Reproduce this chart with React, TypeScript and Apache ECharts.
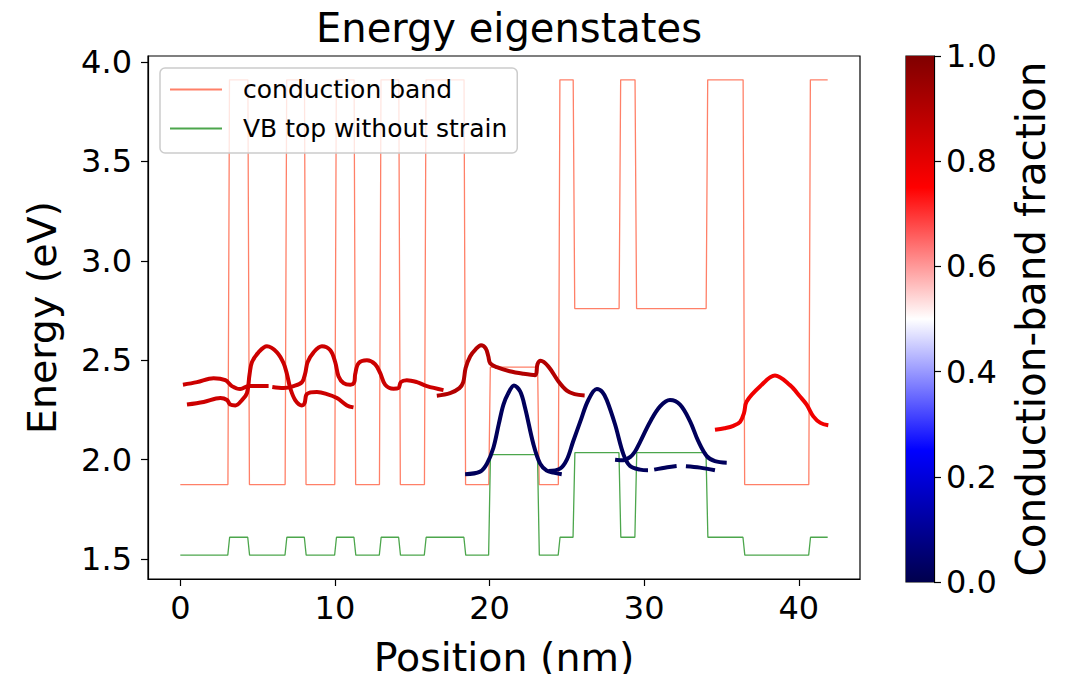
import React, { useEffect, useRef } from "react";
import * as echarts from "echarts";

const FONT = "DejaVu Sans";

// Layer boundaries along the growth direction (nm)
const layerEdges = [0, 3.13, 4.42, 6.83, 8.08, 10.04, 11.29, 12.93, 14.18, 15.84, 18.4, 20.0, 23.16, 24.5, 25.46, 28.43, 29.46, 34.06, 36.45, 40.7, 41.87];
// Conduction band edge per layer (eV)
const cbLevels = [1.875, 3.91, 1.875, 3.91, 1.875, 3.91, 1.875, 3.91, 1.875, 3.91, 1.875, 2.465, 1.875, 3.91, 2.76, 3.91, 2.76, 3.91, 1.875, 3.91];
// Valence band top without strain per layer (eV)
const vbLevels = [1.52, 1.61, 1.52, 1.61, 1.52, 1.61, 1.52, 1.61, 1.52, 1.61, 1.52, 2.025, 1.52, 1.61, 2.035, 1.61, 2.035, 1.61, 1.52, 1.61];

const xTicks = [0, 10, 20, 30, 40];
const yTicks = [1.5, 2.0, 2.5, 3.0, 3.5, 4.0];
const cbarTicks = [0, 0.2, 0.4, 0.6, 0.8, 1.0];

// Eigenstates: [position nm, energy eV]; null marks a break
const stateU: ([number, number] | null)[] = [
  [0.17, 2.377], [1.08, 2.39], [2.15, 2.41], [2.91, 2.4], [3.34, 2.37], [3.88, 2.355], [4.42, 2.37], [4.96, 2.37], [5.71, 2.37], null,
  [5.95, 2.365], [6.68, 2.36], [7.33, 2.37], [7.87, 2.39], [8.08, 2.435], [8.23, 2.49], [8.62, 2.54], [9.16, 2.57], [9.7, 2.55], [10.02, 2.49],
  [10.23, 2.42], [10.56, 2.385], [11.0, 2.377], [11.25, 2.39], [11.31, 2.43], [11.53, 2.485], [12.07, 2.5], [12.6, 2.48], [12.93, 2.435],
  [13.25, 2.377], [13.79, 2.357], [14.11, 2.36], [14.26, 2.39], [14.65, 2.4], [15.3, 2.39], [15.95, 2.37], [17.02, 2.35],
];
const stateL: ([number, number] | null)[] = [
  [0.43, 2.277], [1.51, 2.29], [2.59, 2.31], [3.02, 2.3], [3.23, 2.277], [3.56, 2.273], [3.99, 2.3], [4.31, 2.335], [4.48, 2.43], [4.63, 2.49],
  [5.06, 2.54], [5.6, 2.57], [6.25, 2.54], [6.68, 2.485], [6.9, 2.43], [7.11, 2.36], [7.43, 2.3], [7.87, 2.273], [8.04, 2.285], [8.19, 2.33],
  [8.84, 2.34], [9.48, 2.33], [10.13, 2.31], [10.78, 2.273], [11.2, 2.263],
];
const stateM: ([number, number] | null)[] = [
  [16.59, 2.322], [17.45, 2.335], [18.05, 2.36], [18.3, 2.39], [18.45, 2.46], [18.75, 2.52], [19.1, 2.555], [19.45, 2.575], [19.75, 2.56],
  [19.92, 2.52], [20.04, 2.485], [20.47, 2.465], [21.3, 2.445], [22.2, 2.432], [22.95, 2.425], [23.1, 2.48], [23.3, 2.497], [23.81, 2.468],
  [24.46, 2.393], [25.0, 2.347], [25.5, 2.33], [26.15, 2.323],
];
const stateN1: ([number, number] | null)[] = [
  [18.42, 1.927], [19.39, 1.94], [19.83, 1.98], [20.25, 2.06], [20.6, 2.18], [20.9, 2.277], [21.22, 2.335], [21.58, 2.373], [21.98, 2.343],
  [22.3, 2.26], [22.84, 2.077], [23.27, 1.98], [23.7, 1.945], [24.13, 1.935], [24.67, 1.927],
];
const stateN2: ([number, number] | null)[] = [
  [23.81, 1.943], [24.56, 1.955], [25.0, 2.0], [25.4, 2.09], [25.86, 2.19], [26.39, 2.3], [26.94, 2.355], [27.3, 2.34], [27.58, 2.3],
  [28.12, 2.177], [28.66, 2.027], [29.09, 1.968], [29.74, 1.95], [30.25, 1.947], null,
  [30.65, 1.95], [31.5, 1.962], [32.1, 1.968], null,
  [32.7, 1.967], [33.61, 1.96], [34.58, 1.947],
];
const stateN3: ([number, number] | null)[] = [
  [28.12, 2.0], [28.66, 1.997], [29.09, 2.013], [29.4, 2.04], [29.74, 2.09], [30.38, 2.19], [31.03, 2.268], [31.67, 2.3], [32.32, 2.277],
  [32.97, 2.193], [33.5, 2.093], [34.05, 2.018], [34.58, 1.993], [35.34, 1.985],
];
const stateR: ([number, number] | null)[] = [
  [34.58, 2.15], [35.2, 2.158], [35.77, 2.17], [36.2, 2.19], [36.46, 2.235], [36.63, 2.293], [37.49, 2.368], [38.46, 2.423], [39.43, 2.375],
  [40.08, 2.318], [40.51, 2.277], [40.94, 2.218], [41.4, 2.185], [41.91, 2.173],
];

const states = [stateL, stateU, stateM, stateN1, stateN2, stateN3, stateR];
// Conduction-band fraction of each state
const stateFractions = [0.85, 0.85, 0.9, 0.02, 0.02, 0.02, 0.78];

const seismicStops: [number, number[]][] = [
  [0, [0, 0, 0.3]],
  [0.25, [0, 0, 1]],
  [0.5, [1, 1, 1]],
  [0.75, [1, 0, 0]],
  [1, [0.5, 0, 0]],
];

function seismic(f: number): string {
  for (let i = 1; i < seismicStops.length; i++) {
    const [p0, c0] = seismicStops[i - 1];
    const [p1, c1] = seismicStops[i];
    if (f <= p1) {
      const t = (f - p0) / (p1 - p0);
      const c = c0.map((v, k) => Math.round((v + (c1[k] - v) * t) * 255));
      return `rgb(${c[0]},${c[1]},${c[2]})`;
    }
  }
  return "rgb(128,0,0)";
}

function stepProfile(edges: number[], levels: number[], ramp: number): number[][] {
  const pts: number[][] = [[edges[0], levels[0]]];
  for (let i = 1; i < levels.length; i++) {
    pts.push([edges[i] - ramp / 2, levels[i - 1]]);
    pts.push([edges[i] + ramp / 2, levels[i]]);
  }
  pts.push([edges[edges.length - 1], levels[levels.length - 1]]);
  return pts;
}

function splitSegments(arr: ([number, number] | null)[]): number[][][] {
  const segs: number[][][] = [];
  let cur: number[][] = [];
  arr.forEach((p) => {
    if (p === null) {
      if (cur.length) segs.push(cur);
      cur = [];
    } else cur.push(p);
  });
  if (cur.length) segs.push(cur);
  return segs;
}

export default function App() {
  const ref = useRef<HTMLDivElement>(null);

  useEffect(() => {
    if (!ref.current) return;
    const chart = echarts.init(ref.current, undefined, { renderer: "svg" });

    const stateSeries: any[] = [];
    states.forEach((st, i) => {
      const color = seismic(stateFractions[i]);
      splitSegments(st).forEach((seg, j) => {
        stateSeries.push({
          name: `state ${i + 1}.${j + 1}`,
          type: "line",
          xAxisIndex: 0,
          yAxisIndex: 0,
          data: seg,
          showSymbol: false,
          smooth: 0.35,
          z: 3,
          lineStyle: { color, width: 4, cap: "butt" },
          itemStyle: { color },
        });
      });
    });

    const cbColor = "#ff8068";
    const vbColor = "#4ca64c";

    const axisText = { fontFamily: FONT, fontSize: 32, color: "#000" };

    const option: any = {
      animation: false,
      backgroundColor: "#fff",
      title: {
        text: "Energy eigenstates",
        left: 504,
        textAlign: "center",
        top: 3,
        textStyle: { fontFamily: FONT, fontSize: 40, fontWeight: "normal", color: "#000" },
      },
      legend: {
        data: ["conduction band", "VB top without strain"],
        orient: "vertical",
        left: 160,
        top: 68,
        padding: [9, 10, 12, 10],
        itemWidth: 52,
        itemHeight: 2,
        itemGap: 14,
        icon: "rect",
        textStyle: { fontFamily: FONT, fontSize: 25, color: "#000", padding: [0, 0, 0, 16] },
        backgroundColor: "rgba(255,255,255,0.8)",
        borderColor: "#cccccc",
        borderWidth: 1.5,
        borderRadius: 5,
      },
      grid: [
        { left: 148, top: 56, width: 712, height: 526, show: true, borderColor: "#000", borderWidth: 1.2, backgroundColor: "transparent" },
        { left: 906, top: 56, width: 28, height: 526, show: true, borderColor: "#000", borderWidth: 1.2, backgroundColor: "transparent" },
      ],
      xAxis: [
        {
          type: "value",
          gridIndex: 0,
          min: -2.09,
          max: 43.96,
          name: "Position (nm)",
          nameLocation: "middle",
          nameGap: 58,
          nameTextStyle: { fontFamily: FONT, fontSize: 39.5, color: "#000" },
          axisLine: { show: true, onZero: false, lineStyle: { color: "#000", width: 1.2 } },
          axisTick: { show: true, customValues: xTicks, length: 7, lineStyle: { color: "#000", width: 1.2 } },
          axisLabel: { ...axisText, customValues: xTicks, margin: 13, formatter: (v: number) => String(Math.round(v)) },
          splitLine: { show: false },
        },
        {
          type: "category",
          gridIndex: 1,
          data: ["fraction"],
          show: false,
          boundaryGap: true,
        },
      ],
      yAxis: [
        {
          type: "value",
          gridIndex: 0,
          min: 1.4,
          max: 4.03,
          name: "Energy (eV)",
          nameLocation: "middle",
          nameRotate: 90,
          nameGap: 86,
          nameTextStyle: { fontFamily: FONT, fontSize: 39.5, color: "#000" },
          axisLine: { show: true, onZero: false, lineStyle: { color: "#000", width: 1.2 } },
          axisTick: { show: true, customValues: yTicks, length: 7, lineStyle: { color: "#000", width: 1.2 } },
          axisLabel: { ...axisText, customValues: yTicks, margin: 16, formatter: (v: number) => v.toFixed(1) },
          splitLine: { show: false },
        },
        {
          type: "value",
          gridIndex: 1,
          position: "right",
          min: 0,
          max: 1,
          interval: 0.2,
          name: "Conduction-band fraction",
          nameLocation: "middle",
          nameRotate: 90,
          nameGap: 76,
          nameTextStyle: { fontFamily: FONT, fontSize: 40.5, color: "#000" },
          axisLine: { show: true, lineStyle: { color: "#000", width: 1.2 } },
          axisTick: { show: true, length: 7, lineStyle: { color: "#000", width: 1.2 } },
          axisLabel: { ...axisText, margin: 12, formatter: (v: number) => v.toFixed(1) },
          splitLine: { show: false },
        },
      ],
      series: [
        {
          name: "conduction band",
          type: "line",
          xAxisIndex: 0,
          yAxisIndex: 0,
          data: stepProfile(layerEdges, cbLevels, 0.1),
          showSymbol: false,
          z: 2,
          lineStyle: { color: cbColor, width: 1.3 },
          itemStyle: { color: cbColor },
        },
        {
          name: "VB top without strain",
          type: "line",
          xAxisIndex: 0,
          yAxisIndex: 0,
          data: stepProfile(layerEdges, vbLevels, 0.12),
          showSymbol: false,
          z: 2,
          lineStyle: { color: vbColor, width: 1.3 },
          itemStyle: { color: vbColor },
        },
        ...stateSeries,
        {
          name: "colorbar",
          type: "bar",
          xAxisIndex: 1,
          yAxisIndex: 1,
          data: [1],
          barWidth: "100%",
          silent: true,
          itemStyle: {
            color: new echarts.graphic.LinearGradient(
              0, 1, 0, 0,
              seismicStops.map(([p]) => ({ offset: p, color: seismic(p) }))
            ),
          },
        },
      ],
    };

    chart.setOption(option);
    return () => chart.dispose();
  }, []);

  return <div ref={ref} style={{ width: 1074, height: 682, margin: -8 }} />;
}
